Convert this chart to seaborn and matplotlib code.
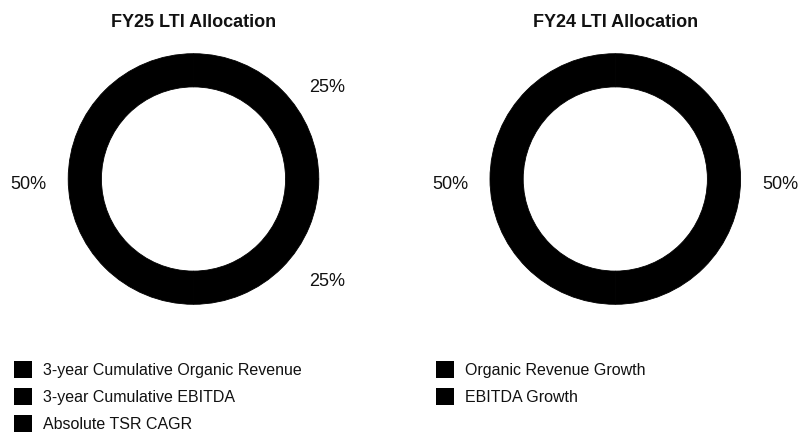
import numpy as np
import matplotlib
matplotlib.use("Agg")
import matplotlib.pyplot as plt
import matplotlib.transforms as mtransforms
import seaborn as sns

sns.set_theme(style="white")
plt.rcParams['font.family'] = ['Liberation Sans', 'DejaVu Sans']

fy25_title = "FY25 LTI Allocation"
fy25_labels = ["3-year Cumulative Organic Revenue", "3-year Cumulative EBITDA", "Absolute TSR CAGR"]
fy25_values = [50, 25, 25]

fy24_title = "FY24 LTI Allocation"
fy24_labels = ["Organic Revenue Growth", "EBITDA Growth"]
fy24_values = [50, 50]

W, H = 803, 432
fig = plt.figure(figsize=(W / 100, H / 100), dpi=100)
fig.patch.set_facecolor("white")

R = 125.3          # outer radius in px
LIM = 1.45         # axis half-range in radius units
side = 2 * LIM * R


def donut(cx, cy, values, labels, title, leg_x):
    # cx, cy: ring centre in px from top-left
    ax = fig.add_axes([(cx - side / 2) / W, (H - cy - side / 2) / H, side / W, side / H])
    colors = sns.color_palette(["#000000"] * len(values))
    wedges, _, autotexts = ax.pie(
        values, colors=colors, startangle=90, counterclock=True,
        autopct=lambda p: f"{p:.0f}%", pctdistance=1.32,
        wedgeprops=dict(width=0.265, linewidth=0.6, edgecolor="#000000"),
        textprops=dict(fontsize=13, color="#111111"))
    ax.set_xlim(-LIM, LIM)
    ax.set_ylim(-LIM, LIM)
    ax.set_aspect("equal")
    ax.axis("off")

    # pull labels a little toward the horizontal and drop them slightly
    off = mtransforms.offset_copy(ax.transData, fig=fig, x=0, y=-5.5, units="dots")
    for t in autotexts:
        x, y = t.get_position()
        r = np.hypot(x, y)
        phi = np.arctan2(y, abs(x)) * 0.8
        t.set_position((np.sign(x) * r * np.cos(phi), r * np.sin(phi)))
        t.set_transform(off)
        t.set_ha("center")
        t.set_va("center")
        t.set_clip_on(False)

    fig.text(cx / W, (H - 26.7) / H, title, ha="center", va="baseline",
             fontsize=13, fontweight="bold", color="#111111")

    leg = fig.legend(wedges, labels, loc="upper left",
                     bbox_to_anchor=(leg_x / W, (H - 360.5) / H),
                     bbox_transform=fig.transFigure, frameon=False,
                     fontsize=11.5, borderpad=0, borderaxespad=0,
                     handlelength=1.125, handleheight=1.35,
                     handletextpad=0.69, labelspacing=0.57,
                     labelcolor="#111111")
    for h in leg.legend_handles:
        h.set_linewidth(0)


donut(193.5, 179, fy25_values, fy25_labels, fy25_title, 14)
donut(615.3, 179, fy24_values, fy24_labels, fy24_title, 436)

fig.savefig("out.png", dpi=100, facecolor="white")
